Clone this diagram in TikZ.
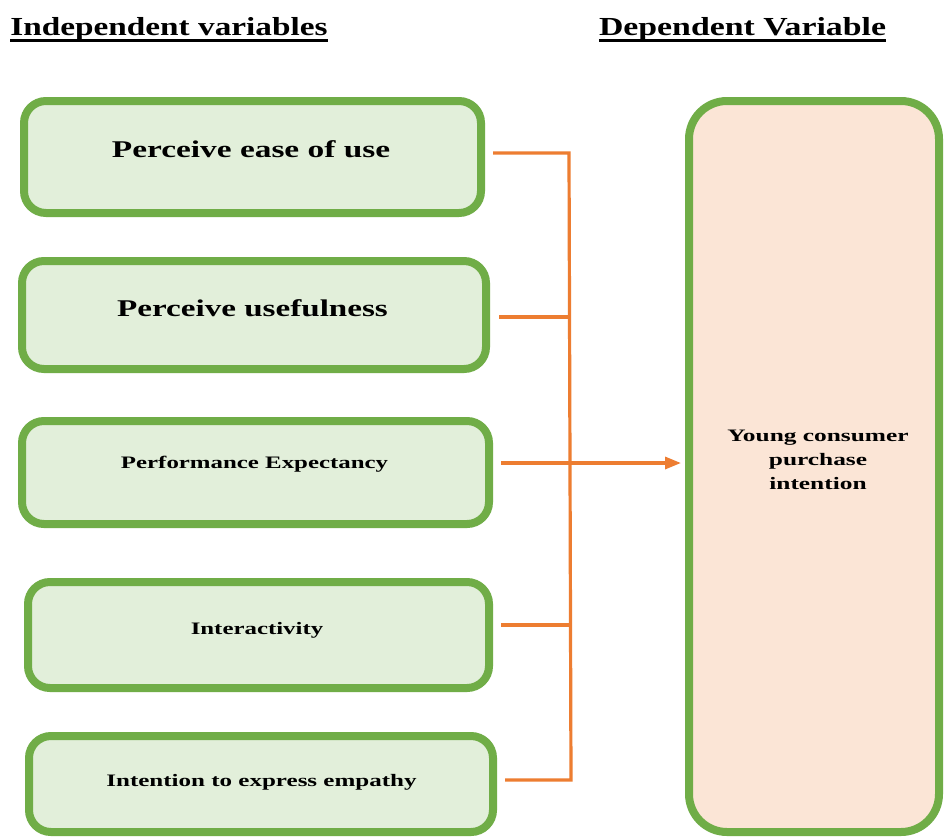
\documentclass[tikz,border=0pt]{standalone}
\usepackage{fontspec}
\usepackage{graphicx}
\setmainfont{Liberation Serif}
\usetikzlibrary{arrows.meta}
\definecolor{gborder}{HTML}{70AD47}
\definecolor{gfill}{HTML}{E2EFDA}
\definecolor{pfill}{HTML}{FBE5D6}
\definecolor{orng}{HTML}{ED7D31}
\newcommand{\hstretch}[2]{\scalebox{#1}[1]{#2}}
\begin{document}
\begin{tikzpicture}[x=1pt,y=-1pt,
  ivbox/.style={draw=gborder, fill=gfill, line width=8pt, rounded corners=22pt, inner sep=0pt},
  dvbox/.style={draw=gborder, fill=pfill, line width=8pt, rounded corners=38pt, inner sep=0pt},
  bigtxt/.style={font=\bfseries\fontsize{24}{28}\selectfont, inner sep=0pt, anchor=base},
  smalltxt/.style={font=\bfseries\fontsize{17.5}{24}\selectfont, inner sep=0pt, anchor=base},
  headtxt/.style={font=\bfseries\fontsize{26}{30}\selectfont, inner sep=0pt, anchor=base},
  conn/.style={draw=orng, line width=3.2pt},
  arr/.style={conn, -{Triangle[length=16pt,width=12pt]}}]
\useasboundingbox (0,0) rectangle (945,838);
\clip (0,0) rectangle (945,838);
\fill[white] (0,0) rectangle (945,838);

% headers
\node[headtxt] (h1) at (169,35) {\hstretch{1.28}{Independent variables}};
\node[headtxt] (h2) at (742.5,35) {\hstretch{1.30}{Dependent Variable}};
\draw[line width=3pt] ([yshift=-5pt]h1.base west) -- ([yshift=-5pt]h1.base east);
\draw[line width=3pt] ([yshift=-5pt]h2.base west) -- ([yshift=-5pt]h2.base east);

% boxes
\node[ivbox, minimum width=457pt, minimum height=112pt] (b1) at (252.5,157) {};
\node[ivbox, minimum width=464pt, minimum height=108pt] (b2) at (254,315) {};
\node[ivbox, minimum width=467pt, minimum height=103pt] (b3) at (255.5,472.5) {};
\node[ivbox, minimum width=461pt, minimum height=106pt] (b4) at (258.5,635) {};
\node[ivbox, minimum width=464pt, minimum height=96pt] (b5) at (261,784) {};
\node[dvbox, minimum width=250pt, minimum height=731pt] (dv) at (814,466.5) {};

% texts
\node[bigtxt] (t1) at (251,157) {\hstretch{1.39}{Perceive ease of use}};
\node[bigtxt] (t2) at (252.5,316) {\hstretch{1.38}{Perceive usefulness}};
\node[smalltxt] (t3) at (254.5,468) {\hstretch{1.42}{Performance Expectancy}};
\node[smalltxt] (t4) at (257,634) {\hstretch{1.42}{Interactivity}};
\node[smalltxt] (t5) at (261.5,786) {\hstretch{1.43}{Intention to express empathy}};
\node[smalltxt, align=center, anchor=center] (t6) at (818,460)
  {\hstretch{1.45}{Young consumer}\\\hstretch{1.45}{purchase}\\\hstretch{1.45}{intention}};

% connectors
\coordinate (busTop) at (569,153);
\coordinate (busBot) at (571,780);
\draw[conn] ([xshift=8pt,yshift=4pt]b1.east) -- (busTop) -- (busBot) -- ([xshift=8pt,yshift=4pt]b5.east);
\draw[conn] ([xshift=9pt,yshift=-2pt]b2.east) -- ([yshift=-2pt]b2.east -| busTop);
\draw[conn] ([xshift=8pt,yshift=10pt]b4.east) -- ([yshift=10pt]b4.east -| busBot);
\draw[arr, shorten >=4pt] ([xshift=8pt,yshift=9.5pt]b3.east) -- ([yshift=9.5pt]b3.east -| dv.west);
\end{tikzpicture}
\end{document}
